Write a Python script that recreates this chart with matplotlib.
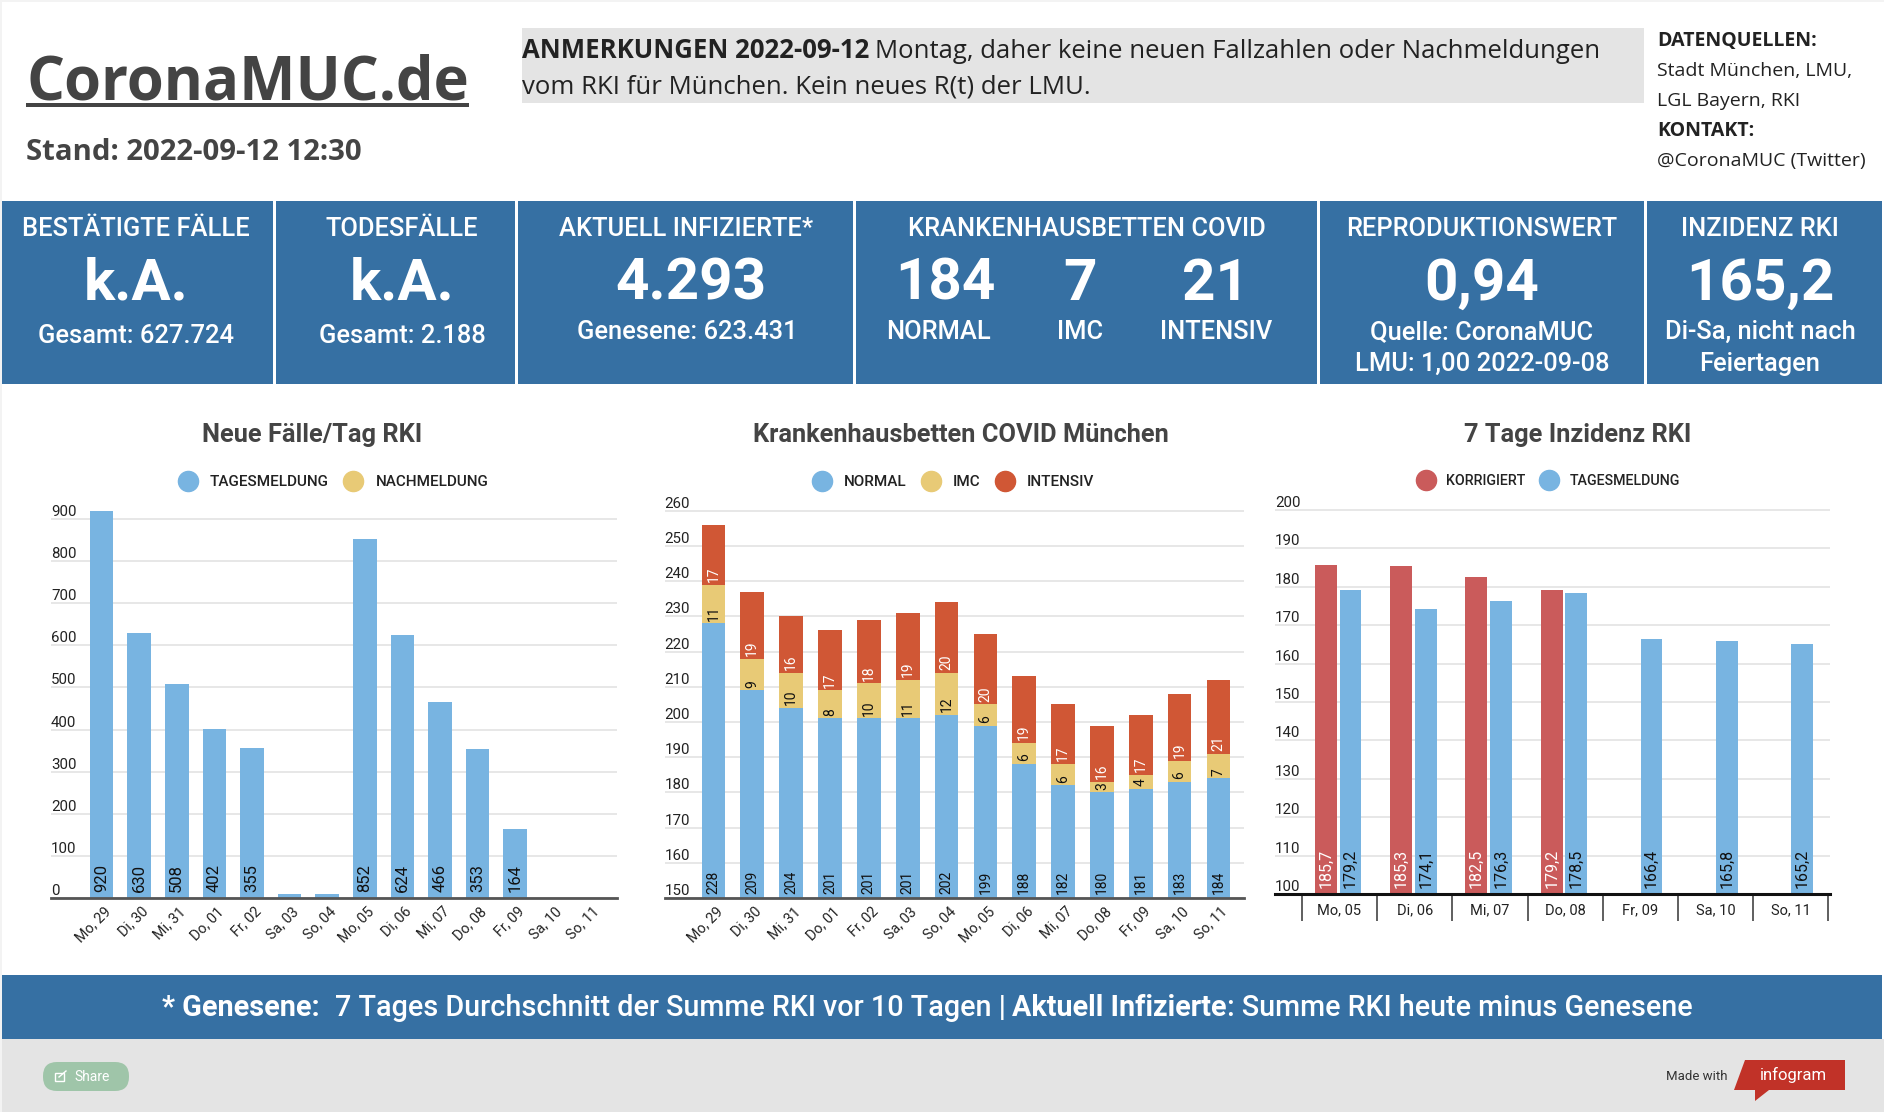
import matplotlib
matplotlib.use("Agg")
import matplotlib.pyplot as plt
import numpy as np
from matplotlib.lines import Line2D
from matplotlib.patches import FancyBboxPatch, Polygon, Rectangle
from matplotlib.transforms import ScaledTranslation

W, H = 1884, 1112
BLAU = "#3670A3"
HELLBLAU = "#78B4E1"
GELB = "#E8CA76"
ORANGE = "#D05735"
ROT = "#CA5B5B"
GRAU = "#E4E4E4"
DUNKEL = "#444444"
TEXT = "#222222"

tage_14 = ["Mo, 29", "Di, 30", "Mi, 31", "Do, 01", "Fr, 02", "Sa, 03", "So, 04",
           "Mo, 05", "Di, 06", "Mi, 07", "Do, 08", "Fr, 09", "Sa, 10", "So, 11"]
tage_7 = ["Mo, 05", "Di, 06", "Mi, 07", "Do, 08", "Fr, 09", "Sa, 10", "So, 11"]

faelle = [920, 630, 508, 402, 355, 10, 10, 852, 624, 466, 353, 164, 0, 0]
faelle_labels = ["920", "630", "508", "402", "355", "", "", "852", "624", "466", "353", "164", "", ""]

normal = [228, 209, 204, 201, 201, 201, 202, 199, 188, 182, 180, 181, 183, 184]
imc = [11, 9, 10, 8, 10, 11, 12, 6, 6, 6, 3, 4, 6, 7]
intensiv = [17, 19, 16, 17, 18, 19, 20, 20, 19, 17, 16, 17, 19, 21]

korrigiert = [185.7, 185.3, 182.5, 179.2]
inzidenz = [179.2, 174.1, 176.3, 178.5, 166.4, 165.8, 165.2]

ticks_faelle = list(range(0, 901, 100))
ticks_betten = list(range(150, 261, 10))
ticks_inzidenz = list(range(100, 201, 10))

plt.rcParams["font.family"] = ["Roboto", "DejaVu Sans"]

fig = plt.figure(figsize=(W / 100, H / 100), dpi=100, facecolor="white")

# Ebene fuer alles ausser den Diagrammen, in Pixeln
bg = fig.add_axes([0, 0, 1, 1], zorder=0)
bg.set_xlim(0, W)
bg.set_ylim(H, 0)
bg.axis("off")


def box(x0, y0, x1, y1, farbe):
    bg.add_patch(Rectangle((x0, y0), x1 - x0, y1 - y0, facecolor=farbe, edgecolor="none"))


def px(x, y, s, size, farbe="white", weight="normal", ha="center", family="Roboto"):
    return bg.text(x, y, s, fontsize=size, color=farbe, fontweight=weight, ha=ha,
                   va="baseline", family=family)


def zeile(x, y, teile, size, farbe, family):
    # mehrere Textstuecke mit wechselnder Staerke hintereinander
    renderer = fig.canvas.get_renderer()
    for s, weight, luecke in teile:
        t = px(x, y, s, size, farbe, weight, "left", family)
        x += t.get_window_extent(renderer).width + luecke


box(0, 0, W, 2, "#F3F3F3")
box(0, 0, 2, H, "#F3F3F3")

# Kopf
px(27, 99, "CoronaMUC.de", 43, DUNKEL, "bold", "left", "Open Sans")
box(26, 103, 469, 106.5, DUNKEL)
px(26, 160, "Stand: 2022-09-12 12:30", 21.2, DUNKEL, "bold", "left", "Open Sans")

box(522, 28, 1644, 103, GRAU)
zeile(522, 58, [("ANMERKUNGEN 2022-09-12", "bold", 6),
                ("Montag, daher keine neuen Fallzahlen oder Nachmeldungen", "normal", 0)],
      18.55, "#222222", "Open Sans")
px(522, 94, "vom RKI für München. Kein neues R(t) der LMU.", 18.55, "#222222", "normal", "left", "Open Sans")

px(1657, 46, "DATENQUELLEN:", 14, "#222222", "bold", "left", "Open Sans")
px(1657, 76, "Stadt München, LMU,", 14, "#222222", "normal", "left", "Open Sans")
px(1657, 106, "LGL Bayern, RKI", 14, "#222222", "normal", "left", "Open Sans")
px(1657, 136, "KONTAKT:", 14, "#222222", "bold", "left", "Open Sans")
px(1657, 166, "@CoronaMUC (Twitter)", 14, "#222222", "normal", "left", "Open Sans")

# Kacheln
for x0, x1 in [(2, 273), (276, 515), (518, 853), (856, 1317), (1320, 1644), (1647, 1882)]:
    box(x0, 201, x1, 384, BLAU)

for x, s in [(136, "BESTÄTIGTE FÄLLE"), (402, "TODESFÄLLE"), (686, "AKTUELL INFIZIERTE*"),
             (1087, "KRANKENHAUSBETTEN COVID"), (1482, "REPRODUKTIONSWERT"), (1760, "INZIDENZ RKI")]:
    px(x, 236, s, 18.4, weight=500)
for x, s in [(136, "k.A."), (402, "k.A."), (691, "4.293"), (945, "184"), (1080, "7"),
             (1215, "21"), (1482, "0,94"), (1760, "165,2")]:
    px(x, 300, s, 42, weight="bold")
px(136, 343, "Gesamt: 627.724", 18.4, weight=500)
px(402, 343, "Gesamt: 2.188", 18.4, weight=500)
for x, s in [(687, "Genesene: 623.431"), (939, "NORMAL"), (1080, "IMC"), (1216, "INTENSIV"),
             (1482, "Quelle: CoronaMUC"), (1760, "Di-Sa, nicht nach")]:
    px(x, 339, s, 18.4, weight=500)
px(1482, 371, "LMU: 1,00 2022-09-08", 18.4, weight=500)
px(1760, 371, "Feiertagen", 18.4, weight=500)

# Diagrammtitel
px(312, 442, "Neue Fälle/Tag RKI", 18.3, DUNKEL, "bold")
px(961, 442, "Krankenhausbetten COVID München", 18.3, DUNKEL, "bold")
px(1578, 442, "7 Tage Inzidenz RKI", 18.3, DUNKEL, "bold")

# Fuss
box(2, 975, W - 2, 1039, BLAU)
box(2, 1039, W, H, GRAU)
zeile(162, 1016, [("* Genesene:", "bold", 15),
                  ("7 Tages Durchschnitt der Summe RKI vor 10 Tagen |", 500, 7),
                  ("Aktuell Infizierte", "bold", 0),
                  (": Summe RKI heute minus Genesene", 500, 0)], 20.7, "white", "Roboto")

bg.add_patch(FancyBboxPatch((43, 1062), 86, 29, boxstyle="round,pad=0,rounding_size=14",
                            facecolor="#9FC5A9", edgecolor="none"))
bg.add_patch(Rectangle((55, 1073), 9, 8, facecolor="none", edgecolor="white", lw=1))
bg.plot([59, 66], [1077, 1071], color="white", lw=1)
px(92, 1081, "Share", 10)

px(1697, 1080, "Made with", 9.5, "#333333")
bg.add_patch(Polygon([(1745, 1060), (1845, 1060), (1845, 1090), (1769, 1090), (1755, 1101),
                      (1755, 1090), (1734, 1090)], facecolor="#C13228", edgecolor="none"))
px(1793, 1080, "infogram", 12)


def achse(x0, y0, x1, y1):
    ax = fig.add_axes([x0 / W, 1 - y1 / H, (x1 - x0) / W, (y1 - y0) / H], zorder=1)
    ax.patch.set_alpha(0)
    for seite in ["top", "right", "left"]:
        ax.spines[seite].set_visible(False)
    ax.set_axisbelow(True)
    ax.grid(axis="y", color="#E0E0E0", lw=1.1)
    return ax


def y_ticks(ax, ticks):
    ax.set_yticks(ticks)
    ax.tick_params(axis="y", length=0, pad=0, labelsize=10.8, labelcolor=TEXT)
    for t in ax.get_yticklabels():
        t.set_ha("left")
        t.set_va("bottom")


def x_schraeg(ax, namen):
    ax.set_xticks(np.arange(len(namen)), namen, rotation=45, ha="right", rotation_mode="anchor")
    ax.tick_params(axis="x", length=0, pad=4.5, labelsize=10.4, labelcolor=TEXT)
    versatz = ScaledTranslation(2 / 100, 0, fig.dpi_scale_trans)
    for t in ax.get_xticklabels():
        t.set_transform(t.get_transform() + versatz)


def werte(ax, xs, basis, labels, farbe, size, abstand):
    for x, b, s in zip(xs, basis, labels):
        if s:
            ax.annotate(s, (x, b), xytext=(0, abstand), textcoords="offset points", rotation=90,
                        ha="center", va="bottom", fontsize=size, color=farbe)


def legende(ax, eintraege, cx, cy, size=11):
    griffe = [Line2D([], [], ls="none", marker="o", ms=14.5, color=f, label=s) for f, s in eintraege]
    x, y = cx / W, 1 - cy / H
    leg = fig.legend(handles=griffe, loc="center", bbox_to_anchor=(x, y), ncols=len(griffe), frameon=False,
                     fontsize=size, labelcolor=TEXT, handletextpad=0.65, columnspacing=0.8, handlelength=1.6,
                     borderpad=0, borderaxespad=0)
    for t in leg.get_texts():
        t.set_fontweight(500)


x14 = np.arange(14)

# Neue Faelle
ax1 = achse(51, 500, 617, 898)
ax1.bar(x14, faelle, width=0.63, color=HELLBLAU)
ax1.set_xlim(-1.346, 13.71)
ax1.set_ylim(0, 945)
y_ticks(ax1, ticks_faelle)
x_schraeg(ax1, tage_14)
ax1.spines["bottom"].set_color("#555555")
ax1.spines["bottom"].set_linewidth(2)
werte(ax1, x14, [0] * 14, faelle_labels, "#111111", 12, 4)
legende(ax1, [(HELLBLAU, "TAGESMELDUNG"), (GELB, "NACHMELDUNG")], 332, 482)

# Krankenhausbetten
ax2 = achse(664.5, 500, 1244, 898)
unten_imc = np.array(normal)
unten_int = unten_imc + np.array(imc)
ax2.bar(x14, np.array(normal) - 150, bottom=150, width=0.61, color=HELLBLAU)
ax2.bar(x14, imc, bottom=unten_imc, width=0.61, color=GELB)
ax2.bar(x14, intensiv, bottom=unten_int, width=0.61, color=ORANGE)
ax2.set_xlim((664.5 - 713.5) / 38.84, (1244 - 713.5) / 38.84)
ax2.set_ylim(150, 150 + 398 / 3.52)
y_ticks(ax2, ticks_betten)
x_schraeg(ax2, tage_14)
ax2.spines["bottom"].set_color("#555555")
ax2.spines["bottom"].set_linewidth(2)
werte(ax2, x14, [150] * 14, [str(v) for v in normal], "#111111", 10, 3)
werte(ax2, x14, unten_imc, [str(v) for v in imc], "#111111", 10, 2)
werte(ax2, x14, unten_int, [str(v) for v in intensiv], "white", 10, 2)
legende(ax2, [(HELLBLAU, "NORMAL"), (GELB, "IMC"), (ORANGE, "INTENSIV")], 952, 482)

# Inzidenz
ax3 = achse(1275, 500, 1830, 894)
x7 = np.arange(7)
x_rot = x7[:4] - 0.18
x_blau = x7 + 0.147
ax3.bar(x_rot, np.array(korrigiert) - 100, bottom=100, width=0.29, color=ROT)
ax3.bar(x_blau, np.array(inzidenz) - 100, bottom=100, width=0.29, color=HELLBLAU)
ax3.set_xlim(-0.856, 6.52)
ax3.set_ylim(100, 100 + 394 / 3.84)
y_ticks(ax3, ticks_inzidenz)
ax3.set_xticks(x7, tage_7)
ax3.set_xticks(np.arange(-0.5, 7), minor=True)
ax3.tick_params(axis="x", which="major", length=0, pad=6.5, labelsize=10.5, labelcolor=TEXT)
ax3.tick_params(axis="x", which="minor", length=19.5, width=1.2, color="#444444")
ax3.spines["bottom"].set_color("#111111")
ax3.spines["bottom"].set_linewidth(2.2)
fmt = [f"{v:.1f}".replace(".", ",") for v in korrigiert]
werte(ax3, x_rot, [100] * 4, fmt, "white", 11.5, 4.5)
fmt = [f"{v:.1f}".replace(".", ",") for v in inzidenz]
werte(ax3, x_blau, [100] * 7, fmt, "#111111", 11.5, 4.5)
legende(ax3, [(ROT, "KORRIGIERT"), (HELLBLAU, "TAGESMELDUNG")], 1547, 481, 10.3)

fig.savefig("out.png", dpi=100)
